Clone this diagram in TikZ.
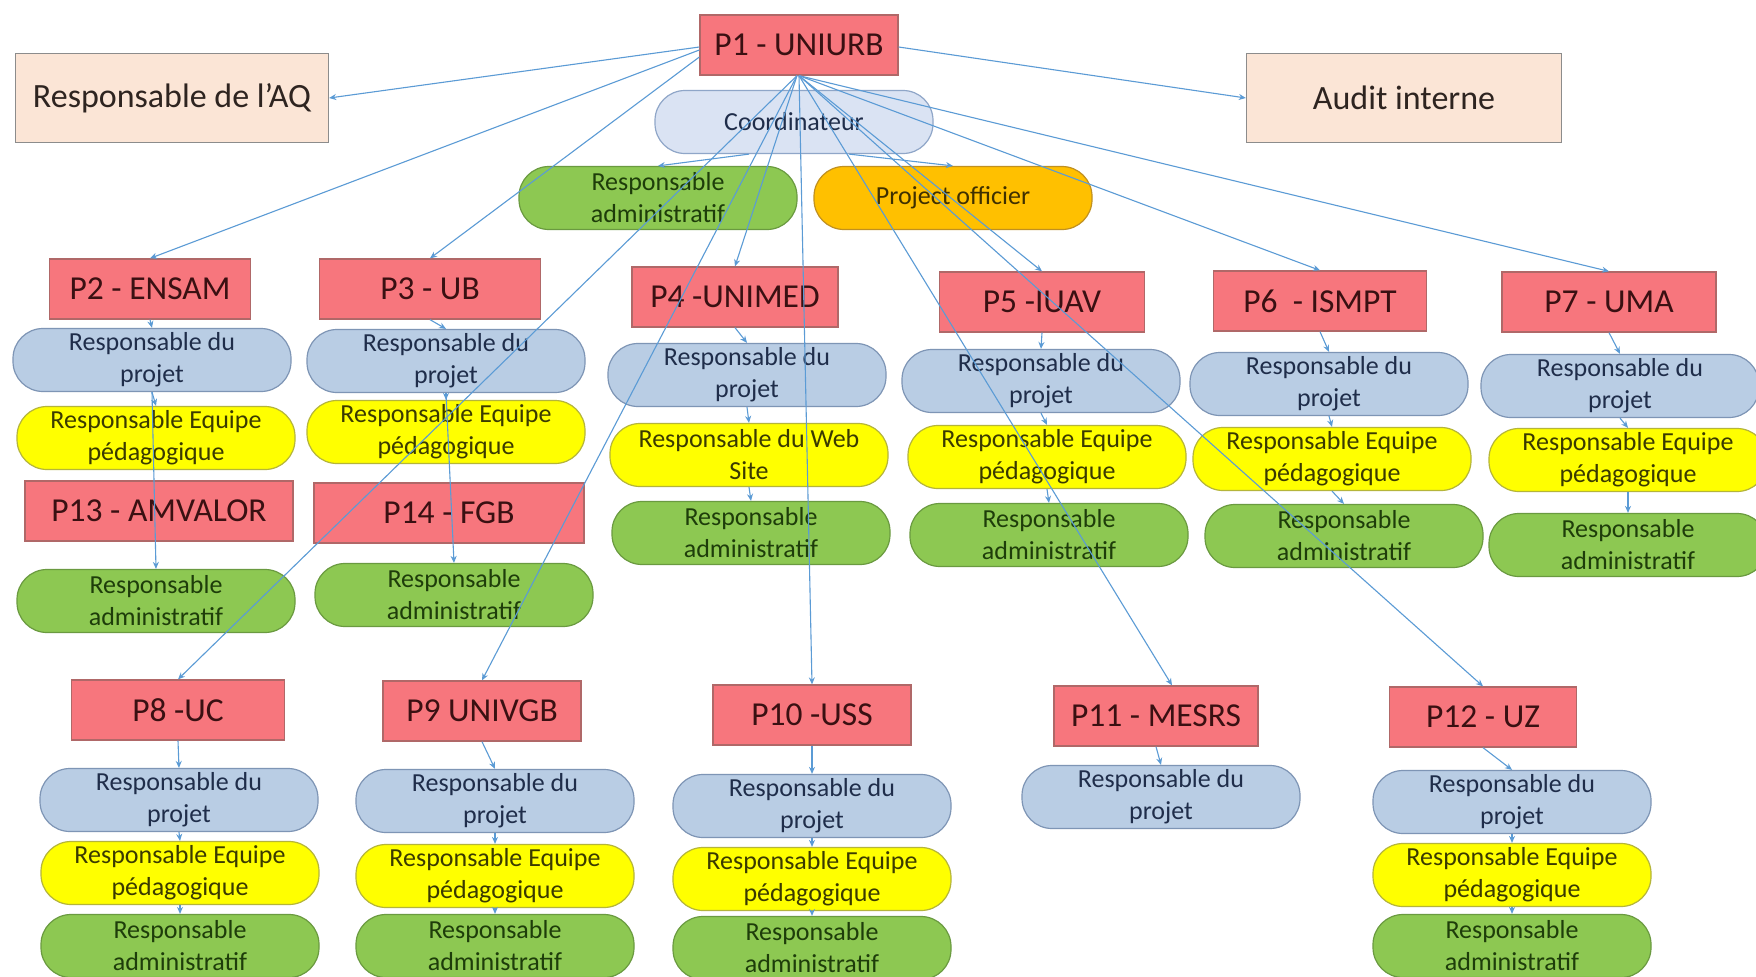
\documentclass[tikz,border=0pt]{standalone}
\usepackage{fontspec}
\setmainfont{Carlito}
\usetikzlibrary{arrows.meta}
\definecolor{redfill}{HTML}{F7767D}
\definecolor{redborder}{HTML}{B06868}
\definecolor{redtext}{HTML}{3A1012}
\definecolor{peachfill}{HTML}{FBE5D6}
\definecolor{peachborder}{HTML}{8C8C8C}
\definecolor{peachtext}{HTML}{2E2420}
\definecolor{coordfill}{HTML}{DAE3F3}
\definecolor{coordborder}{HTML}{8FA6C8}
\definecolor{bluefill}{HTML}{B9CDE4}
\definecolor{blueborder}{HTML}{7E95B5}
\definecolor{bluetext}{HTML}{1F2D4A}
\definecolor{yelfill}{HTML}{FFFF00}
\definecolor{yelborder}{HTML}{B5B53A}
\definecolor{yeltext}{HTML}{3A3A00}
\definecolor{grnfill}{HTML}{8DC852}
\definecolor{grnborder}{HTML}{6A9A40}
\definecolor{grntext}{HTML}{1E3D0A}
\definecolor{orfill}{HTML}{FFC000}
\definecolor{orborder}{HTML}{C09020}
\definecolor{ortext}{HTML}{3F3000}
\definecolor{connblue}{HTML}{5B9BD5}
\begin{document}
\begin{tikzpicture}[x=1pt,y=-1pt,
  pbox/.style={draw=redborder, fill=redfill, line width=1.3pt, minimum height=60pt,
    text=redtext, font=\fontsize{33.5}{40}\selectfont, inner sep=0pt},
  peachbox/.style={draw=peachborder, fill=peachfill, line width=1.3pt, minimum width=313pt,
    minimum height=89pt, text=peachtext, font=\fontsize{34}{41}\selectfont, inner sep=0pt},
  pill/.style={rounded corners=30pt, minimum width=278pt, minimum height=63pt, align=center,
    font=\fontsize{26}{32}\selectfont, inner sep=0pt, line width=1.2pt},
  coordpill/.style={pill, fill=coordfill, draw=coordborder, text=bluetext},
  bluepill/.style={pill, fill=bluefill, draw=blueborder, text=bluetext},
  yelpill/.style={pill, fill=yelfill, draw=yelborder, text=yeltext},
  grnpill/.style={pill, fill=grnfill, draw=grnborder, text=grntext},
  orpill/.style={pill, fill=orfill, draw=orborder, text=ortext},
  conn/.style={draw=connblue, line width=1.1pt, -{Stealth[length=7pt,width=6pt]}}
]
\useasboundingbox (0,0) rectangle (1756,977);
\fill[white] (0,0) rectangle (1756,977);

% top level
\node[pbox, minimum width=198pt] (P1) at (799,45) {P1 - UNIURB};
\node[peachbox] (AQ) at (172,98) {Responsable de l’AQ};
\node[peachbox, minimum width=315pt] (AI) at (1404,98) {Audit interne};
\node[coordpill] (CO) at (794,122) {Coordinateur};
\node[grnpill] (RA0) at (658,198) {Responsable\\administratif};
\node[orpill] (PO) at (953,198) {Project officier};

% row 2 partners
\node[pbox, minimum width=201pt] (P2) at (150,289) {P2 - ENSAM};
\node[pbox, minimum width=221pt] (P3) at (430,289) {P3 - UB};
\node[pbox, minimum width=206pt] (P4) at (735,297) {P4 -UNIMED};
\node[pbox, minimum width=205pt] (P5) at (1042,302) {P5 -IUAV};
\node[pbox, minimum width=213pt] (P6) at (1320,301) {P6 \ - ISMPT};
\node[pbox, minimum width=214pt] (P7) at (1609,302) {P7 - UMA};

\node[bluepill] (B2) at (152,360) {Responsable du\\projet};
\node[bluepill] (B3) at (446,361) {Responsable du\\projet};
\node[bluepill] (B4) at (747,375) {Responsable du\\projet};
\node[bluepill] (B5) at (1041,381) {Responsable du\\projet};
\node[bluepill] (B6) at (1329,384) {Responsable du\\projet};
\node[bluepill] (B7) at (1620,386) {Responsable du\\projet};

\node[yelpill] (Y2) at (156,438) {Responsable Equipe\\pédagogique};
\node[yelpill] (Y3) at (446,432) {Responsable Equipe\\pédagogique};
\node[yelpill] (Y4) at (749,455) {Responsable du Web\\Site};
\node[yelpill] (Y5) at (1047,457) {Responsable Equipe\\pédagogique};
\node[yelpill] (Y6) at (1332,459) {Responsable Equipe\\pédagogique};
\node[yelpill] (Y7) at (1628,460) {Responsable Equipe\\pédagogique};

\node[grnpill] (G4) at (751,533) {Responsable\\administratif};
\node[grnpill] (G5) at (1049,535) {Responsable\\administratif};
\node[grnpill] (G6) at (1344,536) {Responsable\\administratif};
\node[grnpill] (G7) at (1628,545) {Responsable\\administratif};

\node[pbox, minimum width=268pt] (P13) at (159,511) {P13 - AMVALOR};
\node[pbox, minimum width=270pt] (P14) at (449,513) {P14 - FGB};
\node[grnpill] (G13) at (156,601) {Responsable\\administratif};
\node[grnpill] (G14) at (454,595) {Responsable\\administratif};

% row 3 partners
\node[pbox, minimum width=213pt] (P8) at (178,710) {P8 -UC};
\node[pbox, minimum width=198pt] (P9) at (482,711) {P9 UNIVGB};
\node[pbox, minimum width=198pt] (P10) at (812,715) {P10 -USS};
\node[pbox, minimum width=204pt] (P11) at (1156,716) {P11 - MESRS};
\node[pbox, minimum width=187pt] (P12) at (1483,717) {P12 - UZ};

\node[bluepill] (B8) at (179,800) {Responsable du\\projet};
\node[bluepill] (B9) at (495,801) {Responsable du\\projet};
\node[bluepill] (B10) at (812,806) {Responsable du\\projet};
\node[bluepill] (B11) at (1161,797) {Responsable du\\projet};
\node[bluepill] (B12) at (1512,802) {Responsable du\\projet};

\node[yelpill] (Y8) at (180,873) {Responsable Equipe\\pédagogique};
\node[yelpill] (Y9) at (495,876) {Responsable Equipe\\pédagogique};
\node[yelpill] (Y10) at (812,879) {Responsable Equipe\\pédagogique};
\node[yelpill] (Y12) at (1512,875) {Responsable Equipe\\pédagogique};

\node[grnpill] (G8) at (180,946) {Responsable\\administratif};
\node[grnpill] (G9) at (495,946) {Responsable\\administratif};
\node[grnpill] (G10) at (812,948) {Responsable\\administratif};
\node[grnpill] (G12) at (1512,946) {Responsable\\administratif};

% connectors from P1
\draw[conn] ([yshift=-2pt]P1.west) -- (AQ.east);
\draw[conn] ([yshift=-2pt]P1.east) -- (AI.west);
\draw[conn] ([yshift=-5pt]P1.west) -- (P2.north);
\draw[conn] ([yshift=-12pt]P1.west) -- (P3.north);
\draw[conn] ([xshift=-2pt]P1.south) -- (P4.north);
\draw[conn] ([xshift=-2pt]P1.south) -- (P8.north);
\draw[conn] ([xshift=-2pt]P1.south) -- (P9.north);
\draw[conn] (P1.south) -- (P10.north);
\draw[conn] (P1.south) -- (P5.north);
\draw[conn] (P1.south) -- (P6.north);
\draw[conn] (P1.south) -- (P7.north);
\draw[conn] (P1.south) -- ([xshift=16pt]P11.north);
\draw[conn] (P1.south) -- (P12.north);
\draw[conn] ([xshift=-45pt]CO.south) -- (RA0.north);
\draw[conn] ([xshift=55pt]CO.south) -- (PO.north);

% columns
\draw[conn] (P2.south) -- (B2.north);
\draw[conn] (B2.south) -- (Y2.north);
\draw[conn] (B2.south) -- (G13.north);
\draw[conn] (P3.south) -- (B3.north);
\draw[conn] (B3.south) -- (Y3.north);
\draw[conn] (B3.south) -- (G14.north);
\foreach \i in {4,5,6,7,8,9,10,12}{
  \draw[conn] (P\i.south) -- (B\i.north);
  \draw[conn] (B\i.south) -- (Y\i.north);
  \draw[conn] (Y\i.south) -- (G\i.north);
}
\draw[conn] (P11.south) -- (B11.north);
\end{tikzpicture}
\end{document}
